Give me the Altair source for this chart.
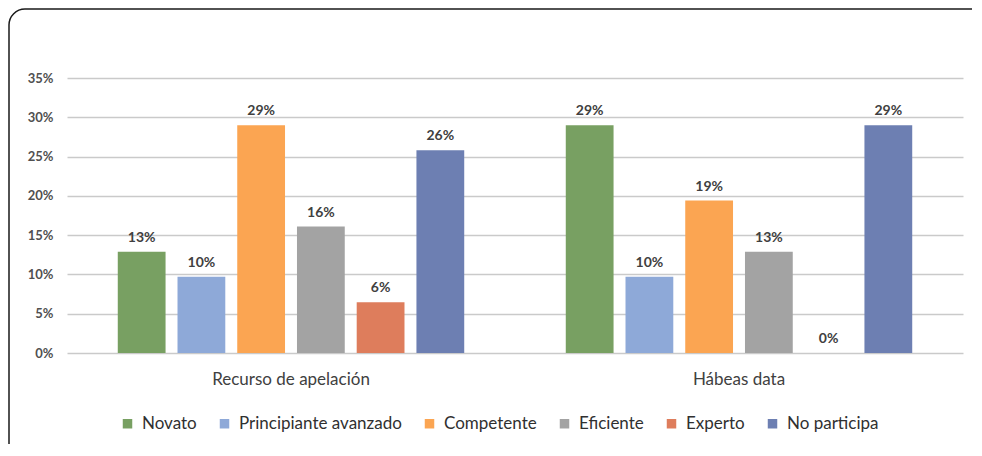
import altair as alt
import pandas as pd

groups = ["Recurso de apelación", "Hábeas data"]
series = ["Novato", "Principiante avanzado", "Competente", "Eficiente", "Experto", "No participa"]
colors = ["#78A062", "#8EA9D8", "#FBA552", "#A3A3A3", "#DE7D5C", "#6D7FB2"]
recurso = [0.129, 0.097, 0.290, 0.161, 0.0645, 0.258]
habeas = [0.290, 0.097, 0.194, 0.129, 0.0, 0.290]
y_ticks = [0, 0.05, 0.10, 0.15, 0.20, 0.25, 0.30, 0.35]

rows = []
for g, vals in zip(groups, [recurso, habeas]):
    for s, v in zip(series, vals):
        rows.append({"grupo": g, "nivel": s, "valor": v})
df = pd.DataFrame(rows)

W, H = 896, 275
FONT = "Lato"

base = alt.Chart(df).encode(
    x=alt.X("grupo:N", sort=groups,
            scale=alt.Scale(paddingInner=0, paddingOuter=0),
            axis=alt.Axis(title=None, labelAngle=0, labelFontSize=17, labelColor="#404040",
                          labelFont=FONT, ticks=False, domain=False, labelPadding=18, grid=False)),
    xOffset=alt.XOffset("nivel:N", sort=series,
                        scale=alt.Scale(paddingInner=0.2, paddingOuter=0.85)),
    y=alt.Y("valor:Q", scale=alt.Scale(domain=[0, 0.35], nice=False),
            axis=alt.Axis(title=None, format=".0%", values=y_ticks, labelFontSize=13,
                          labelColor="#505050", labelFont=FONT, labelFontWeight="bold",
                          ticks=False, domain=False, labelPadding=14, labelOverlap=False,
                          gridColor="#CACACA", gridWidth=1.5)),
)

bars = base.mark_bar().encode(
    color=alt.Color("nivel:N", sort=series,
                    scale=alt.Scale(domain=series, range=colors),
                    legend=alt.Legend(title=None, orient="none", direction="horizontal",
                                      legendX=52, legendY=337, symbolType="square",
                                      symbolSize=90, symbolStrokeWidth=0, labelFontSize=17,
                                      labelFont=FONT, labelColor="#303030", columnPadding=19,
                                      labelOffset=6, labelLimit=300)),
)

labels = base.mark_text(baseline="bottom", dy=-7, fontSize=14, font=FONT,
                        fontWeight="bold", color="#404040").encode(
    text=alt.Text("valor:Q", format=".0%"),
)

frame = alt.Chart(pd.DataFrame({"a": [0]})).mark_rect(
    fill=None, stroke="#1a1a1a", strokeWidth=1.5, cornerRadiusTopLeft=16
).encode(
    x=alt.value(-58), x2=alt.value(W + 60),
    y=alt.value(-69), y2=alt.value(H + 150),
)

chart = alt.layer(bars, labels, frame).properties(
    width=W, height=H,
    background="white",
    autosize=alt.AutoSizeParams(type="none"),
    padding={"left": 59, "top": 70, "right": 9, "bottom": 91},
).configure_view(stroke=None)

chart.save("out.html", embed_options={"renderer": "svg", "actions": False})
